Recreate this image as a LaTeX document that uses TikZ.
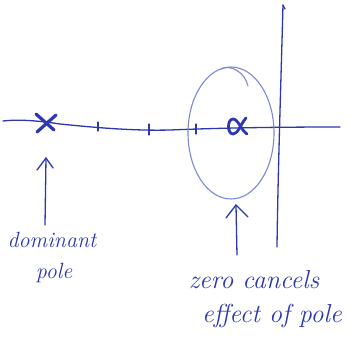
\documentclass[tikz,border=0pt]{standalone}
\begin{document}
\begin{tikzpicture}[x=1pt,y=-1pt,line cap=round,line join=round,
  ink/.style={draw=inkblue,line width=1.3pt},
  bold/.style={draw=inkblue,line width=3.2pt},
  faint/.style={draw=faintblue,line width=1.1pt},
  hand/.style={text=inkblue,font=\itshape\fontsize{22}{24}\selectfont,inner sep=0pt},
  bighand/.style={hand,font=\itshape\fontsize{26}{28}\selectfont},
  head/.style={draw=inkblue,line width=1.3pt}]
\definecolor{inkblue}{RGB}{45,55,175}
\definecolor{faintblue}{RGB}{125,135,215}
\useasboundingbox (0,0) rectangle (360,349);
% real axis
\coordinate (rL) at (3,121);
\coordinate (rR) at (340,127);
\draw[ink] (rL) .. controls (20,119) and (40,121) .. (60,124)
  .. controls (90,127) and (130,131) .. (170,130)
  .. controls (220,128) and (270,127) .. (rR);
% ticks
\draw[ink] (98,122) -- (98,131);
\draw[ink] (149,124) -- (149,135);
\draw[ink] (196,124) -- (196,134);
% imaginary axis
\coordinate (iT) at (283,5);
\coordinate (iB) at (277,247);
\draw[ink] (iT) .. controls (281,80) and (278,170) .. (iB);
\draw[ink] (283,5) -- (285,9);
% pole X
\coordinate (pole) at (44,123);
\draw[bold] (36,114) -- (54,130);
\draw[bold] (37,132) -- (56,115);
% zero
\coordinate (zero) at (236,127);
\draw[bold,line width=2.8pt] (246,118) .. controls (240,125) and (238,134) .. (233,134)
  .. controls (227,134) and (227,119) .. (233,119)
  .. controls (238,119) and (241,130) .. (247,134);
% ellipse
\coordinate (ec) at (231,133);
\draw[faint] (ec) ellipse [x radius=43, y radius=66];
\draw[faint] (221,69) .. controls (230,64) and (245,72) .. (248,86);
% arrow to pole
\coordinate (a1s) at (45,225);
\coordinate (a1t) at (46,158);
\draw[ink] (a1s) -- (a1t);
\draw[head] (37,170) -- (a1t) -- (53,168);
% arrow to ellipse
\coordinate (a2s) at (237,255);
\coordinate (a2t) at (236,205);
\draw[ink] (a2s) -- (a2t);
\draw[head] (226,218) -- (a2t) -- (248,217);
% texts
\node[hand] (t1) at (52,240) {dominant};
\node[hand] (t2) at (54,273) {pole};
\node[bighand] (t3) at (254,280) {zero cancels};
\node[bighand] (t4) at (272,316) {effect of pole};
\end{tikzpicture}
\end{document}
